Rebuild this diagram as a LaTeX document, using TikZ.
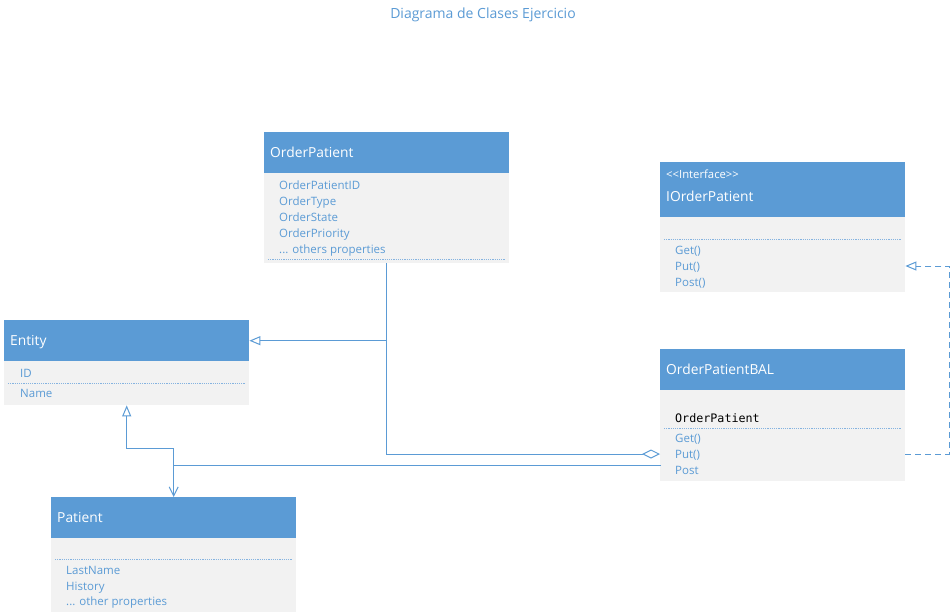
\documentclass[tikz,border=0pt]{standalone}
\usepackage{fontspec}
\setmainfont{Open Sans}
\setmonofont{DejaVu Sans Mono}
\usetikzlibrary{arrows.meta,positioning}
\definecolor{umlhead}{HTML}{5B9BD5}
\definecolor{umlbody}{HTML}{F2F2F2}
\definecolor{umlink}{HTML}{5B9BD5}
\definecolor{umlsep}{HTML}{85B3E0}
\tikzset{
  hdr/.style={fill=umlhead,anchor=north west,minimum height=41pt,text width=233pt,text height=11pt,text depth=2pt,inner xsep=6pt,inner ysep=0pt,align=left,font=\fontsize{13.8}{16}\selectfont,text=white},
  bdy/.style={fill=umlbody,anchor=north west,minimum width=245pt,inner sep=0pt},
  mem/.style={anchor=west,inner sep=0pt,text height=9.5pt,text depth=1.5pt,font=\fontsize{11.5}{13}\selectfont,text=umlink},
  code/.style={mem,font=\ttfamily\fontsize{11.7}{13}\selectfont,text=black},
  stereo/.style={mem,font=\fontsize{11.3}{13}\selectfont,text=white},
  htitle/.style={mem,text height=11pt,text depth=2pt,font=\fontsize{13.8}{16}\selectfont,text=white},
  sep/.style={draw=umlsep,line width=1pt,dash pattern=on 1.2pt off 1pt},
  ln/.style={draw=umlink,line width=1pt},
  dsh/.style={ln,dash pattern=on 6pt off 4pt},
  genTip/.tip={Triangle[open,length=11pt,width=9pt]},
}
\begin{document}
\begin{tikzpicture}[x=1pt,y=-1pt]
\useasboundingbox[fill=white] (0,0) rectangle (951,616);
\node[text=umlink,font=\fontsize{14}{16}\selectfont] (title) at (483,15) {Diagrama de Clases Ejercicio};
% OrderPatient
\node[bdy,minimum height=90pt] (opBody) at (264,173) {};
\node[hdr] (opHead) at (264,132) {OrderPatient};
\node[mem] (opId) at (279,185) {OrderPatientID};
\node[mem] (opType) at (279,201) {OrderType};
\node[mem] (opState) at (279,217) {OrderState};
\node[mem] (opPrio) at (279,233) {OrderPriority};
\node[mem] (opMore) at (279,249) {... others properties};
\draw[sep] (268,259) -- (505,259);
% IOrderPatient
\node[bdy,minimum height=75pt] (ifBody) at (660,217) {};
\node[hdr,minimum height=55pt] (ifHead) at (660,162) {};
\node[stereo] (ifStereo) at (666,174) {<{}<Interface>{}>};
\node[htitle] (ifName) at (666,197) {IOrderPatient};
\draw[sep] (664,239) -- (901,239);
\node[mem] (ifGet) at (675,250) {Get()};
\node[mem] (ifPut) at (675,266) {Put()};
\node[mem] (ifPost) at (675,282) {Post()};
% Entity
\node[bdy,minimum height=44pt] (entBody) at (4,361) {};
\node[hdr] (entHead) at (4,320) {Entity};
\node[mem] (entId) at (20,373) {ID};
\draw[sep] (8,383) -- (245,383);
\node[mem] (entName) at (20,393) {Name};
% OrderPatientBAL
\node[bdy,minimum height=91pt] (balBody) at (660,390) {};
\node[hdr] (balHead) at (660,349) {OrderPatientBAL};
\node[code] (balRef) at (675,418) {OrderPatient};
\draw[sep] (664,428) -- (901,428);
\node[mem] (balGet) at (675,438) {Get()};
\node[mem] (balPut) at (675,454) {Put()};
\node[mem] (balPost) at (675,470) {Post};
% Patient
\node[bdy,minimum height=74pt] (patBody) at (51,538) {};
\node[hdr] (patHead) at (51,497) {Patient};
\draw[sep] (55,559) -- (292,559);
\node[mem] (patLast) at (66,570) {LastName};
\node[mem] (patHist) at (66,586) {History};
\node[mem] (patMore) at (66,601) {... other properties};
% connectors
\coordinate (assocR) at (661,465);
\draw[ln,-genTip] (opBody.south |- entHead.east) -- (entHead.east);
\draw[ln,{Diamond[open,length=18pt,width=9pt]}-] (balBody.west |- balPut) -- (opBody.south |- balPut) -- (opBody.south);
\draw[ln,genTip-{Straight Barb[length=9pt,width=9pt]}] (entBody.south) -- ++(0,43) -| (patHead.north);
\draw[ln] (assocR) -- (patHead.north |- assocR);
\draw[dsh,-genTip] (balBody.east |- balPut) -- ++(44,0) |- (ifBody.east |- ifPut);
\end{tikzpicture}
\end{document}
